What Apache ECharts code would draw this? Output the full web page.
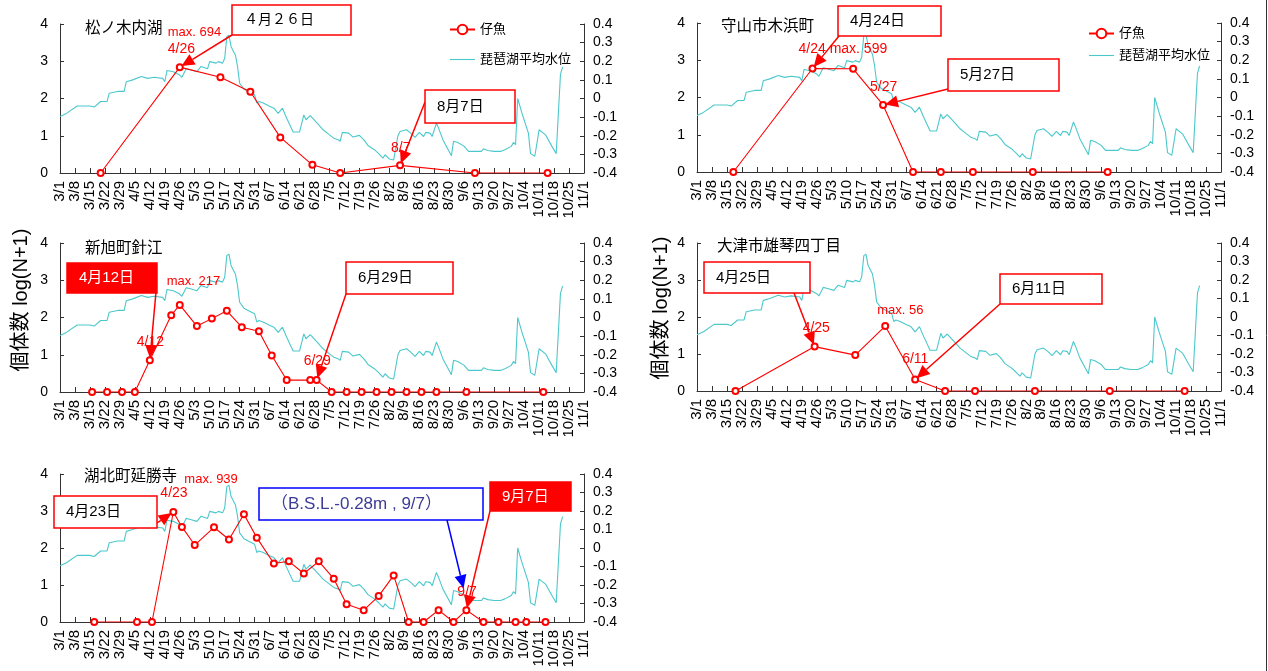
<!DOCTYPE html>
<html>
<head>
<meta charset="utf-8">
<script src="https://cdn.jsdelivr.net/npm/echarts@6/dist/echarts.min.js"></script>
<style>
  html, body { margin: 0; padding: 0; background: #fff; }
  #chart { width: 1268px; height: 671px; }
</style>
</head>
<body>
<div id="chart"></div>
<script>
// ---- data -------------------------------------------------------------
const lg = n => Math.log10(n + 1);

const tickLabels = ['3/1','3/8','3/15','3/22','3/29','4/5','4/12','4/19','4/26','5/3','5/10','5/17',
  '5/24','5/31','6/7','6/14','6/21','6/28','7/5','7/12','7/19','7/26','8/2','8/9','8/16','8/23',
  '8/30','9/6','9/13','9/20','9/27','10/4','10/11','10/18','10/25','11/1'];

const siteNames = ['松ノ木内湖', '守山市木浜町', '新旭町針江', '大津市雄琴四丁目', '湖北町延勝寺'];
const maxCounts = [694, 599, 217, 56, 939];

// 琵琶湖平均水位 (B.S.L., m)
const levelDates = ['3/1','3/4','3/9','3/15','3/17','3/20','3/23','3/24','3/28','3/31','4/1','4/4','4/8',
  '4/11','4/14','4/18','4/19','4/20','4/23','4/26','4/27','4/29','5/1','5/4','5/6','5/9','5/10','5/13',
  '5/14','5/16','5/17','5/18','5/19','5/20','5/22','5/23','5/24','5/26','5/28','5/31','6/1','6/2','6/4',
  '6/7','6/9','6/11','6/13','6/15','6/18','6/21','6/23','6/24','6/26','6/30','7/2','7/5','7/7','7/9',
  '7/10','7/11','7/14','7/16','7/19','7/21','7/23','7/26','7/28','7/30','7/31','8/2','8/4','8/6','8/7',
  '8/10','8/12','8/14','8/16','8/18','8/19','8/21','8/22','8/24','8/25','8/27','8/31','9/1','9/3','9/6',
  '9/8','9/11','9/14','9/15','9/17','9/20','9/23','9/25','9/28','9/29','9/30','10/1','10/3','10/6',
  '10/7','10/9','10/11','10/14','10/17','10/19','10/21','10/22'];
const levelValues = [-0.096,-0.08,-0.04,-0.04,-0.046,-0.016,-0.016,0.028,0.038,0.038,0.09,0.10,0.118,
  0.108,0.114,0.108,0.09,0.15,0.144,0.126,0.114,0.16,0.154,0.144,0.172,0.16,0.198,0.19,
  0.198,0.19,0.216,0.332,0.34,0.278,0.234,0.172,0.082,0.05,0.038,0.02,-0.024,-0.016,-0.024,
  -0.042,-0.052,-0.08,-0.052,-0.106,-0.18,-0.18,-0.088,-0.114,-0.092,-0.142,-0.168,-0.195,-0.213,-0.221,
  -0.23,-0.182,-0.186,-0.207,-0.198,-0.221,-0.252,-0.275,-0.296,-0.32,-0.302,-0.325,-0.33,-0.2,-0.177,
  -0.168,-0.186,-0.209,-0.182,-0.204,-0.182,-0.186,-0.204,-0.132,-0.159,-0.221,-0.307,-0.23,-0.236,-0.257,
  -0.284,-0.284,-0.284,-0.27,-0.279,-0.284,-0.284,-0.275,-0.257,-0.236,-0.248,0.0,-0.079,-0.186,
  -0.296,-0.31,-0.168,-0.195,-0.257,-0.296,0.13,0.17];
const lowLevel = { date: '9/7', value: -0.28 };

// 仔魚 log(N+1)
const fishDates1 = ['3/20','4/26','5/15','5/29','6/12','6/27','7/10','8/7','9/11','10/15'];
const fishValues1 = [0, lg(maxCounts[0]), 2.57, 2.18, 0.955, 0.22, 0, 0.205, 0, 0];

const fishDates2 = ['3/18','4/24','5/13','5/27','6/10','6/23','7/8','8/5','9/9'];
const fishValues2 = [0, lg(maxCounts[1]), 2.77, 1.80, 0, 0, 0, 0, 0];

const fishDates3 = ['3/16','3/23','3/30','4/5','4/12','4/22','4/26','5/4','5/11','5/18','5/25','6/2',
  '6/8','6/15','6/26','6/29','7/6','7/13','7/20','7/27','8/3','8/10','8/17','8/24','9/7','10/13'];
const fishValues3 = [0, 0, 0, 0, 0.854, 2.06, lg(maxCounts[2]), 1.77, 1.97, 2.18, 1.74, 1.63,
  0.98, 0.32, 0.32, 0.32, 0, 0, 0, 0, 0, 0, 0, 0, 0, 0];

const fishDates4 = ['3/19','4/25','5/14','5/28','6/11','6/25','7/9','8/6','9/10','10/15'];
const fishValues4 = [0, 1.2, 0.97, lg(maxCounts[3]), 0.31, 0, 0, 0, 0, 0];

const fishDates5 = ['3/17','4/6','4/13','4/23','4/27','5/3','5/12','5/19','5/26','6/1','6/9','6/16',
  '6/23','6/30','7/7','7/13','7/21','7/28','8/4','8/11','8/18','8/25','9/1','9/7','9/15','9/22',
  '9/30','10/5','10/14'];
const fishValues5 = [0, 0, 0, lg(maxCounts[4]), 2.57, 2.08, 2.56, 2.23, 2.91, 2.28, 1.58, 1.64,
  1.31, 1.64, 1.17, 0.48, 0.32, 0.70, 1.26, 0, 0, 0.32, 0, 0.32, 0, 0, 0, 0, 0];

const fishDates = [fishDates1, fishDates2, fishDates3, fishDates4, fishDates5];
const fishValues = [fishValues1, fishValues2, fishValues3, fishValues4, fishValues5];
const maxDates = ['4/26', '4/24', '4/26', '5/28', '4/23'];

// ---- helpers ----------------------------------------------------------
const monthStart = { 3: 0, 4: 31, 5: 61, 6: 92, 7: 122, 8: 153, 9: 184, 10: 214, 11: 245 };
function dayOf(md) {
  const [m, d] = md.split('/').map(Number);
  return monthStart[m] + d - 1;
}
function fishValueAt(site, md) {
  return fishValues[site][fishDates[site].indexOf(md)];
}

const FONT = "'Liberation Sans', 'Noto Sans CJK JP', sans-serif";
const RED = '#ff0000';
const CYAN = '#4cc8cc';
const AXIS = '#333333';

// ---- layout -----------------------------------------------------------
const grids = [
  { left: 60,  top: 24,  width: 524, height: 149 },
  { left: 697, top: 23,  width: 524, height: 149 },
  { left: 60,  top: 243, width: 524, height: 149 },
  { left: 697, top: 243, width: 524, height: 148 },
  { left: 60,  top: 474, width: 524, height: 148 }
];

const xAxes = grids.map((g, i) => ({
  type: 'value', gridIndex: i, min: 0, max: 245, interval: 7,
  axisLine: { lineStyle: { color: AXIS, width: 1 } },
  axisTick: { inside: true, length: 5, lineStyle: { color: AXIS } },
  axisLabel: {
    rotate: 90, margin: 8, fontSize: 15, color: '#000', fontFamily: FONT,
    formatter: v => tickLabels[Math.round(v / 7)] || ''
  },
  splitLine: { show: false }
}));

const yAxes = [];
grids.forEach((g, i) => {
  yAxes.push({
    type: 'value', gridIndex: i, position: 'left', min: 0, max: 4, interval: 1,
    axisLine: { show: true, lineStyle: { color: AXIS, width: 1 } },
    axisTick: { show: true, inside: true, length: 4, lineStyle: { color: AXIS } },
    axisLabel: { margin: 12, fontSize: 14, color: '#000', fontFamily: FONT },
    splitLine: { show: false }
  });
  yAxes.push({
    type: 'value', gridIndex: i, position: 'right', min: -0.4, max: 0.4, interval: 0.1,
    axisLine: { show: true, lineStyle: { color: AXIS, width: 1 } },
    axisTick: { show: true, inside: true, length: 4, lineStyle: { color: AXIS } },
    axisLabel: {
      margin: 9, fontSize: 14, color: '#000', fontFamily: FONT,
      formatter: v => String(Math.round(v * 10) / 10)
    },
    splitLine: { show: false }
  });
});

const series = [];
grids.forEach((g, i) => {
  series.push({
    name: '琵琶湖平均水位', type: 'line', xAxisIndex: i, yAxisIndex: 2 * i + 1,
    data: levelDates.map((d, k) => [dayOf(d), levelValues[k]]),
    showSymbol: false, symbol: 'none', lineStyle: { color: CYAN, width: 1.1 }, itemStyle: { color: CYAN },
    z: 2, silent: true
  });
});
grids.forEach((g, i) => {
  series.push({
    name: '仔魚', type: 'line', xAxisIndex: i, yAxisIndex: 2 * i,
    data: fishDates[i].map((d, k) => [dayOf(d), fishValues[i][k]]),
    symbol: 'emptyCircle', symbolSize: 6,
    lineStyle: { color: RED, width: 1.1 },
    itemStyle: { color: RED, borderColor: RED, borderWidth: 1 },
    z: 3, silent: true
  });
});

// plain line icon for the water level entry
const ICON_LINE = 'path://M0,5.45 L25,5.45 L25,6.55 L0,6.55 Z M0,0 L0,0 M0,12 L0,12';

const legendBase = {
  orient: 'vertical', itemWidth: 25, itemHeight: 12, selectedMode: false, padding: 0,
  textStyle: { fontSize: 13, color: '#000', fontFamily: FONT }
};
const legendData = [
  { name: '仔魚' },
  { name: '琵琶湖平均水位', icon: ICON_LINE, itemStyle: { color: CYAN } }
];

const chart = echarts.init(document.getElementById('chart'), null, { renderer: 'canvas' });
chart.setOption({
  animation: false,
  backgroundColor: '#ffffff',
  grid: grids,
  xAxis: xAxes,
  yAxis: yAxes,
  legend: [
    Object.assign({}, legendBase, { left: 449, top: 23, itemGap: 17, data: legendData }),
    Object.assign({}, legendBase, { left: 1088, top: 27, itemGap: 9, data: legendData })
  ],
  series: series
});

// ---- annotations ------------------------------------------------------
const titlePos = [[85, 27], [721, 25], [85, 247], [717, 245], [84, 475]];
const axisTitles = [[21, 300], [661, 308]];

const callouts = [
  { grid: 0, text: '４月２６日', box: [232, 5, 119, 30], fill: false, fontSize: 14, from: [232, 35], date: '4/26' },
  { grid: 0, text: '8月7日', box: [425, 90, 90, 33], fill: false, from: [425, 102], date: '8/7' },
  { grid: 1, text: '4月24日', box: [838, 6, 103, 30], fill: false, from: [839, 36], date: '4/24' },
  { grid: 1, text: '5月27日', box: [948, 59, 111, 32], fill: false, from: [948, 89], date: '5/27' },
  { grid: 2, text: '4月12日', box: [67, 263, 90, 30], fill: true, from: [156, 292], date: '4/12' },
  { grid: 2, text: '6月29日', box: [346, 262, 107, 32], fill: false, from: [346, 294], date: '6/29' },
  { grid: 3, text: '4月25日', box: [704, 262, 106, 31], fill: false, from: [794, 293], date: '4/25' },
  { grid: 3, text: '6月11日', box: [1000, 274, 102, 30], fill: false, from: [1000, 304], date: '6/11' },
  { grid: 4, text: '4月23日', box: [54, 496, 103, 32], fill: false, from: [157, 523], date: '4/23' },
  { grid: 4, text: '9月7日', box: [490, 482, 81, 29], fill: true, from: [490, 511], date: '9/7' }
];

const pointLabels = [
  { grid: 0, date: '4/26', text: 'max. ' + maxCounts[0], size: 13, dx: -12, dy: -35 },
  { grid: 0, date: '4/26', text: '4/26', size: 14, dx: -12, dy: -18 },
  { grid: 0, date: '8/7', text: '8/7', size: 14, dx: -9, dy: -17 },
  { grid: 1, date: '4/24', text: '4/24 max. ' + maxCounts[1], size: 14, dx: -14, dy: -19 },
  { grid: 1, date: '5/27', text: '5/27', size: 14, dx: -13, dy: -18 },
  { grid: 2, date: '4/26', text: 'max. ' + maxCounts[2], size: 13, dx: -13, dy: -23 },
  { grid: 2, date: '4/12', text: '4/12', size: 14, dx: -13, dy: -18 },
  { grid: 2, date: '6/29', text: '6/29', size: 14, dx: -13, dy: -19 },
  { grid: 3, date: '4/25', text: '4/25', size: 14, dx: -12, dy: -18 },
  { grid: 3, date: maxDates[3], text: 'max. ' + maxCounts[3], size: 13, dx: -8, dy: -16 },
  { grid: 3, date: '6/11', text: '6/11', size: 14, dx: -13, dy: -20 },
  { grid: 4, date: '4/23', text: '4/23', size: 14, dx: -13, dy: -19 },
  { grid: 4, date: '4/23', text: 'max. ' + maxCounts[4], size: 13, dx: 11, dy: -33 },
  { grid: 4, date: '9/7', text: '9/7', size: 14, dx: -9, dy: -18 }
];

function toPixel(gi, md, v, rightAxis) {
  return chart.convertToPixel({ xAxisIndex: gi, yAxisIndex: rightAxis ? 2 * gi + 1 : 2 * gi }, [dayOf(md), v]);
}

function arrow(from, target, color, shorten) {
  const dxv = target[0] - from[0], dyv = target[1] - from[1];
  const len = Math.hypot(dxv, dyv);
  const ux = dxv / len, uy = dyv / len;
  const tip = [target[0] - ux * shorten, target[1] - uy * shorten];
  const headL = 13, headW = 6;
  const base = [tip[0] - ux * headL, tip[1] - uy * headL];
  return [
    { type: 'line', silent: true, z: 20,
      shape: { x1: from[0], y1: from[1], x2: base[0], y2: base[1] },
      style: { stroke: color, lineWidth: 1.5 } },
    { type: 'polygon', silent: true, z: 20,
      shape: { points: [tip, [base[0] - uy * headW, base[1] + ux * headW], [base[0] + uy * headW, base[1] - ux * headW]] },
      style: { fill: color } }
  ];
}

function boxElements(box, text, fill, stroke, textColor, fontSize, padLeft) {
  return [
    { type: 'rect', silent: true, z: 21,
      shape: { x: box[0], y: box[1], width: box[2], height: box[3] },
      style: { fill: fill ? stroke : '#ffffff', stroke: stroke, lineWidth: 1.5 } },
    { type: 'text', silent: true, z: 22, x: box[0] + padLeft, y: box[1] + box[3] / 2,
      style: { text: text, fill: textColor, fontSize: fontSize, fontFamily: FONT,
               align: 'left', verticalAlign: 'middle' } }
  ];
}

const graphics = [];

// site titles
siteNames.forEach((name, i) => {
  graphics.push({ type: 'text', silent: true, z: 10, x: titlePos[i][0], y: titlePos[i][1],
    style: { text: name, fill: '#000', fontSize: 15.5, fontFamily: "'Noto Sans CJK JP', sans-serif",
             align: 'left', verticalAlign: 'middle' } });
});

// axis titles
axisTitles.forEach(p => {
  graphics.push({ type: 'text', silent: true, z: 10, x: p[0], y: p[1], rotation: Math.PI / 2,
    style: { text: '個体数 log(N+1)', fill: '#000', fontSize: 20, fontFamily: FONT,
             align: 'center', verticalAlign: 'middle' } });
});

// date callouts with arrows pointing at the sampling points
callouts.forEach(c => {
  const target = toPixel(c.grid, c.date, fishValueAt(c.grid, c.date), false);
  graphics.push(...arrow(c.from, target, RED, 2));
  graphics.push(...boxElements(c.box, c.text, c.fill, RED, c.fill ? '#ffffff' : '#000000',
    c.fontSize || 15, 12));
});

// water level note
{
  const target = toPixel(4, lowLevel.date, lowLevel.value, true);
  graphics.push(...arrow([447, 520], target, '#0000ff', 12));
  graphics.push(...boxElements([259, 488, 224, 32],
    '（B.S.L.-' + Math.abs(lowLevel.value).toFixed(2) + 'm , ' + lowLevel.date + '）',
    false, '#0000ff', '#3c3c96', 17, 12));
}

// red labels next to points
pointLabels.forEach(l => {
  const p = toPixel(l.grid, l.date, fishValueAt(l.grid, l.date), false);
  graphics.push({ type: 'text', silent: true, z: 15, x: p[0] + l.dx, y: p[1] + l.dy,
    style: { text: l.text, fill: RED, fontSize: l.size, fontFamily: FONT, align: 'left', verticalAlign: 'middle' } });
});

// outer frame edge
graphics.push({ type: 'line', silent: true, z: 5,
  shape: { x1: 1266.5, y1: 0, x2: 1266.5, y2: 671 }, style: { stroke: '#333', lineWidth: 1 } });

chart.setOption({ graphic: graphics });
</script>
</body>
</html>
